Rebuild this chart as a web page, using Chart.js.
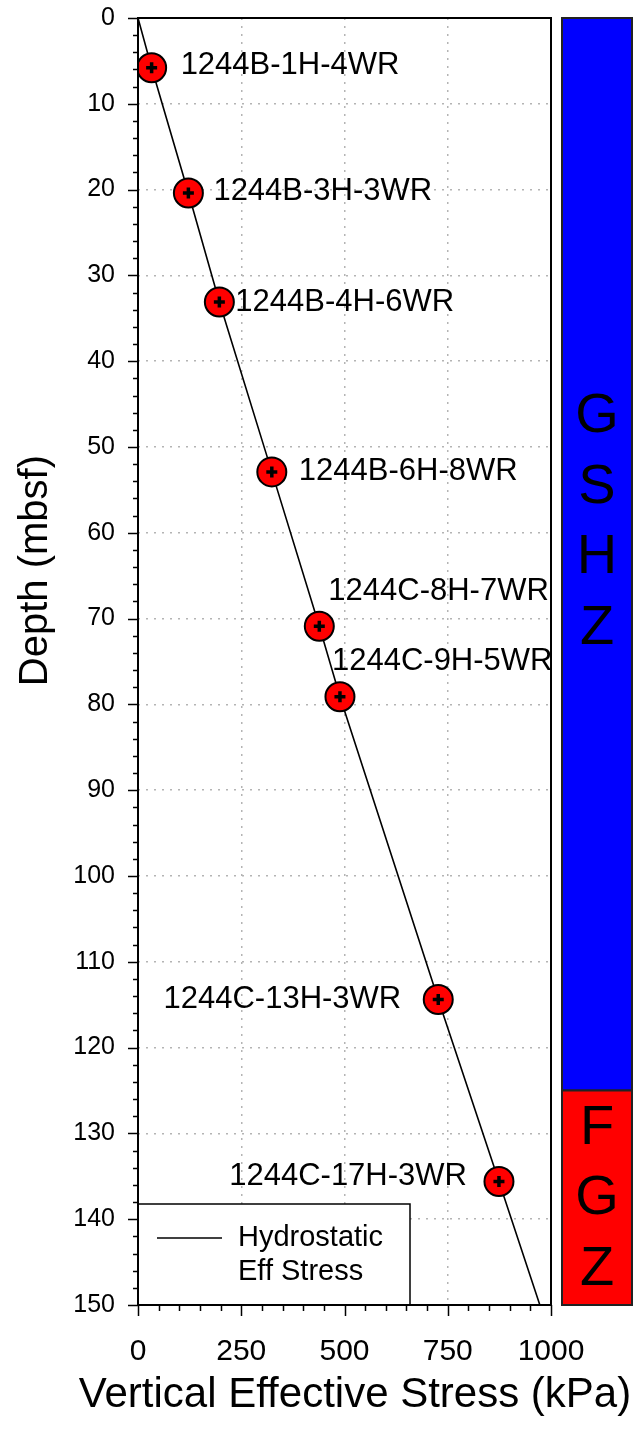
<!DOCTYPE html>
<html>
<head>
<meta charset="utf-8">
<script src="https://cdn.jsdelivr.net/npm/chart.js@4.4.1/dist/chart.umd.min.js"></script>
<style>
  html, body { margin: 0; padding: 0; background: #ffffff; }
  #wrap { width: 637px; height: 1431px; }
</style>
</head>
<body>
<div id="wrap"><canvas id="c" width="637" height="1431"></canvas></div>
<script>
// Whole-round core samples: vertical effective stress (kPa) against depth (mbsf)
const sampleIds = ['1244B-1H-4WR', '1244B-3H-3WR', '1244B-4H-6WR', '1244B-6H-8WR',
                   '1244C-8H-7WR', '1244C-9H-5WR', '1244C-13H-3WR', '1244C-17H-3WR'];
const sampleStress = [33, 122, 197, 324, 439, 489, 727, 874];
const sampleDepth  = [5.8, 20.4, 33.1, 52.9, 70.9, 79.1, 114.4, 135.6];

// Hydrostatic effective stress profile
const hydroDepth  = [0, 5.8, 20.4, 33.1, 52.9, 70.9, 79.1, 114.4, 135.6, 150];
const hydroStress = [0, 33, 122, 197, 324, 439, 489, 727, 874, 973];

// Hydrate zones along the depth column
const zoneNames  = ['GSHZ', 'FGZ'];
const zoneTop    = [0, 125];
const zoneBottom = [125, 150];

// Axis ranges, tick steps and titles
const stressMax = 1000, stressMajor = 250, stressMinor = 50;
const depthMax = 150, depthMajor = 10, depthMinor = 2;
const xTitle = 'Vertical Effective Stress (kPa)';
const yTitle = 'Depth (mbsf)';
const legendLines = ['Hydrostatic', 'Eff Stress'];

// ---- presentation settings ----
const FONT = "'Liberation Sans', Arial, Helvetica, sans-serif";
const zoneColors = ['#0000ff', '#ff0000'];
const zoneLetterCenter = [58.6, 137.4];   // depth at the middle of each letter stack
const zoneLetterStep = 70.5;              // px between stacked letters
// label side and pixel offset from the marker centre
const labelPlacement = [
  { side: 'right', dx: 29, dy: -2 },
  { side: 'right', dx: 25, dy: -2 },
  { side: 'right', dx: 16, dy: 0 },
  { side: 'right', dx: 27, dy: 0 },
  { side: 'right', dx: 9,  dy: -35 },
  { side: 'right', dx: -8, dy: -35 },
  { side: 'left',  dx: -37, dy: 0 },
  { side: 'left',  dx: -32, dy: -5 }
];

const hydroPoints = hydroDepth.map((d, i) => ({ x: hydroStress[i], y: d }));
const samplePoints = sampleDepth.map((d, i) => ({ x: sampleStress[i], y: d }));

const decorations = {
  id: 'decorations',
  afterDatasetsDraw(chart) {
    const { ctx, chartArea: a, scales: { x, y } } = chart;
    ctx.save();

    // sample labels next to their markers
    const meta = chart.getDatasetMeta(1);
    ctx.font = '31px ' + FONT;
    ctx.fillStyle = '#000';
    ctx.textBaseline = 'middle';
    meta.data.forEach((pt, i) => {
      const p = labelPlacement[i];
      ctx.textAlign = p.side === 'left' ? 'right' : 'left';
      ctx.fillText(sampleIds[i], pt.x + p.dx, pt.y + p.dy);
    });

    // legend box in the lower-left corner of the plot
    const lx = a.left, ly = a.bottom - 101, lw = 272, lh = 101;
    ctx.fillStyle = '#fff';
    ctx.fillRect(lx, ly, lw, lh);
    ctx.strokeStyle = '#000';
    ctx.lineWidth = 1.5;
    ctx.strokeRect(lx, ly, lw, lh);
    ctx.beginPath();
    ctx.moveTo(lx + 19, ly + 34);
    ctx.lineTo(lx + 84, ly + 34);
    ctx.stroke();
    ctx.fillStyle = '#000';
    ctx.font = '29px ' + FONT;
    ctx.textAlign = 'left';
    ctx.textBaseline = 'middle';
    ctx.fillText(legendLines[0], lx + 100, ly + 34);
    ctx.fillText(legendLines[1], lx + 100, ly + 68);

    // plot frame
    ctx.lineWidth = 2;
    ctx.strokeStyle = '#000';
    ctx.strokeRect(a.left, a.top, a.right - a.left, a.bottom - a.top);

    // outward tick marks, major and minor
    ctx.lineWidth = 1.5;
    ctx.beginPath();
    for (let v = 0; v <= depthMax + 1e-9; v += depthMinor) {
      const py = Math.round(y.getPixelForValue(v)) + 0.5;
      const len = (Math.abs(v % depthMajor) < 1e-9) ? 10 : 5;
      ctx.moveTo(a.left - len, py);
      ctx.lineTo(a.left, py);
    }
    for (let v = 0; v <= stressMax + 1e-9; v += stressMinor) {
      const px = Math.round(x.getPixelForValue(v)) + 0.5;
      const len = (Math.abs(v % stressMajor) < 1e-9) ? 11 : 6;
      ctx.moveTo(px, a.bottom);
      ctx.lineTo(px, a.bottom + len);
    }
    ctx.stroke();

    // axis titles
    ctx.fillStyle = '#000';
    ctx.font = '42px ' + FONT;
    ctx.textAlign = 'center';
    ctx.textBaseline = 'middle';
    ctx.fillText(xTitle, 355, a.bottom + 90);
    ctx.save();
    ctx.translate(36, y.getPixelForValue(64.4));
    ctx.rotate(-Math.PI / 2);
    ctx.font = '40px ' + FONT;
    ctx.fillText(yTitle, 0, 0);
    ctx.restore();

    // zone column to the right of the plot
    const bx = a.right + 11, bw = 70;
    zoneNames.forEach((name, i) => {
      const top = y.getPixelForValue(zoneTop[i]);
      const bot = y.getPixelForValue(zoneBottom[i]);
      ctx.fillStyle = zoneColors[i];
      ctx.fillRect(bx, top, bw, bot - top);
      ctx.strokeStyle = '#222';
      ctx.lineWidth = 2;
      ctx.strokeRect(bx, top, bw, bot - top);
      ctx.fillStyle = '#000';
      ctx.font = '56px ' + FONT;
      ctx.textAlign = 'center';
      ctx.textBaseline = 'middle';
      const mid = y.getPixelForValue(zoneLetterCenter[i]);
      const n = name.length;
      for (let k = 0; k < n; k++) {
        const cy = mid + (k - (n - 1) / 2) * zoneLetterStep;
        ctx.fillText(name[k], bx + bw / 2, cy + 2);
      }
    });

    ctx.restore();
  }
};

new Chart(document.getElementById('c'), {
  type: 'scatter',
  data: {
    datasets: [
      {
        label: 'Hydrostatic Eff Stress',
        data: hydroPoints,
        showLine: true,
        borderColor: '#000',
        borderWidth: 1.6,
        pointRadius: 0,
        tension: 0,
        order: 3
      },
      {
        label: 'Samples',
        data: samplePoints,
        pointStyle: 'circle',
        pointRadius: 14.5,
        backgroundColor: '#ff0000',
        borderColor: '#000',
        borderWidth: 2,
        order: 2
      },
      {
        label: 'Sample centres',
        data: samplePoints,
        pointStyle: 'cross',
        pointRadius: 5.5,
        borderColor: '#000',
        borderWidth: 3.5,
        order: 1
      }
    ]
  },
  options: {
    responsive: false,
    animation: false,
    events: [],
    devicePixelRatio: 1,
    layout: { padding: { left: 0, top: 18, right: 86, bottom: 0 } },
    plugins: { legend: { display: false }, tooltip: { enabled: false } },
    scales: {
      x: {
        type: 'linear',
        position: 'bottom',
        min: 0,
        max: stressMax,
        ticks: {
          stepSize: stressMajor, padding: 29, color: '#000',
          font: { size: 30, family: FONT },
          callback: (v) => String(v)
        },
        grid: { color: '#b4b4b4', lineWidth: 1.5, drawTicks: false },
        border: { display: false, dash: [2, 6] },
        afterFit(scale) {
          scale.height = 126;
          scale.paddingLeft = 0;
          scale.paddingRight = 0;
        }
      },
      y: {
        type: 'linear',
        reverse: true,
        min: 0,
        max: depthMax,
        ticks: {
          stepSize: depthMajor, padding: 23, color: '#000',
          font: { size: 25, family: FONT },
          callback: (v) => String(v)
        },
        grid: { color: '#b4b4b4', lineWidth: 1.5, drawTicks: false },
        border: { display: false, dash: [2, 6] },
        afterFit(scale) {
          scale.width = 138;
          scale.paddingTop = 0;
          scale.paddingBottom = 0;
        }
      }
    }
  },
  plugins: [decorations]
});
</script>
</body>
</html>
